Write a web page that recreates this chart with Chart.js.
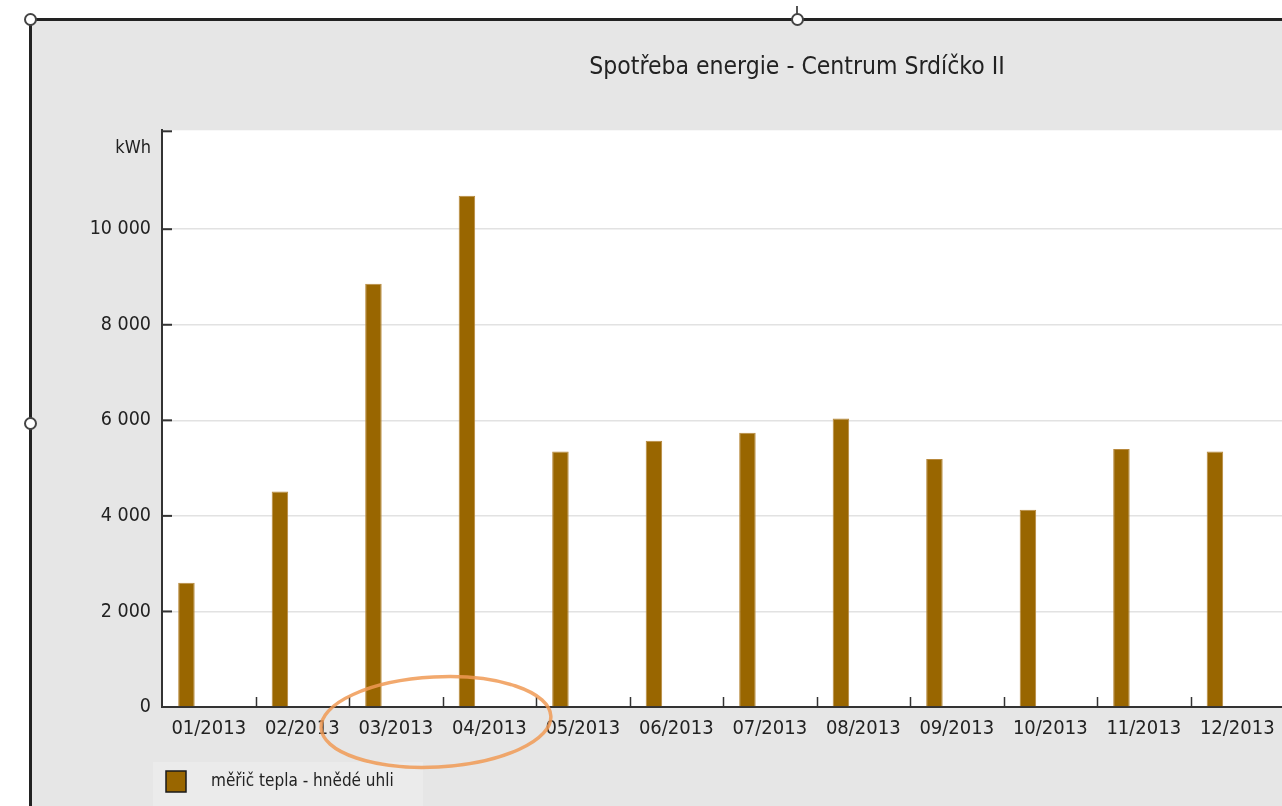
<!DOCTYPE html>
<html><head><meta charset="utf-8">
<script src="https://cdn.jsdelivr.net/npm/chart.js@4.4.1/dist/chart.umd.min.js"></script>
<style>
html,body{margin:0;padding:0;width:1282px;height:806px;overflow:hidden;background:#fff;}
#frame{position:absolute;left:29px;top:18px;width:1540px;height:800px;background:#e6e6e6;border-left:3px solid #222;border-top:3px solid #222;}
#c{position:absolute;left:32px;top:21px;width:1530px;height:785px;}
.h{position:absolute;width:9px;height:9px;border:2px solid #444;border-radius:50%;background:#fff;}
</style></head><body>
<div id="frame"></div>
<canvas id="c" width="1530" height="785"></canvas>
<div style="position:absolute;left:796px;top:6px;width:1.5px;height:12px;background:#555"></div>
<div class="h" style="left:23.5px;top:12.5px"></div>
<div class="h" style="left:790.5px;top:12.5px"></div>
<div class="h" style="left:23.5px;top:416.5px"></div>
<svg style="position:absolute;left:0;top:0;pointer-events:none" width="1282" height="806">
  <ellipse cx="436" cy="722" rx="115" ry="45" transform="rotate(-3 436 722)" fill="none" stroke="#f09a55" stroke-width="3.5" opacity="0.85"/>
</svg>
<script>
const chartTitle = 'Spotřeba energie - Centrum Srdíčko II';
const unitLabel = 'kWh';
const seriesName = 'měřič tepla - hnědé uhli';
const categories = ['01/2013','02/2013','03/2013','04/2013','05/2013','06/2013','07/2013','08/2013','09/2013','10/2013','11/2013','12/2013'];
const heatValues = [2600, 4510, 8860, 10700, 5350, 5570, 5740, 6040, 5190, 4130, 5400, 5350];
const emptySlot = [null,null,null,null,null,null,null,null,null,null,null,null];
const yTickValues = [0, 2000, 4000, 6000, 8000, 10000];
const yMax = 12070;

const FONT = "'DejaVu Sans Condensed','DejaVu Sans',sans-serif";
Chart.defaults.font.family = FONT;
Chart.defaults.color = '#222';

function fmt(v){ return String(v).replace(/\B(?=(\d{3})+(?!\d))/g, ' '); }

const deco = {
  id: 'deco',
  beforeDraw(chart){
    const {ctx, chartArea:a} = chart;
    ctx.save();
    ctx.fillStyle = '#ffffff';
    ctx.fillRect(a.left, a.top, a.right - a.left, a.bottom - a.top);
    ctx.fillStyle = '#ebebeb';
    ctx.fillRect(a.left - 9, chart.height - 44, 270, 44);
    ctx.restore();
  },
  afterDraw(chart){
    const {ctx, chartArea:a, scales:{x, y}} = chart;
    ctx.save();
    ctx.strokeStyle = '#333';
    ctx.lineWidth = 2;
    const ys = yTickValues.map(v => y.getPixelForValue(v)).concat([a.top + 1]);
    ys.forEach(py => { ctx.beginPath(); ctx.moveTo(a.left, py); ctx.lineTo(a.left + 10, py); ctx.stroke(); });
    const half = (x.getPixelForValue(1) - x.getPixelForValue(0)) / 2;
    for (let i = 0; i < categories.length; i++) {
      const px = Math.round(x.getPixelForValue(i) + half) + 0.5;
      ctx.lineWidth = 1.5;
      ctx.beginPath(); ctx.moveTo(px, a.bottom); ctx.lineTo(px, a.bottom - 10); ctx.stroke();
    }
    ctx.fillStyle = '#222';
    ctx.font = '18px ' + FONT;
    ctx.textAlign = 'right';
    ctx.textBaseline = 'middle';
    ctx.fillText(unitLabel, a.left - 11, a.top + 18);
    const ds = chart.data.datasets[0];
    const bx = a.left + 4, by = chart.height - 35;
    ctx.fillStyle = ds.backgroundColor;
    ctx.fillRect(bx, by, 20, 21);
    ctx.strokeStyle = '#1a1a1a';
    ctx.lineWidth = 1.5;
    ctx.strokeRect(bx, by, 20, 21);
    ctx.fillStyle = '#222';
    ctx.font = '17px ' + FONT;
    ctx.textAlign = 'left';
    ctx.fillText(ds.label, a.left + 49, by + 11);
    ctx.restore();
  }
};

new Chart(document.getElementById('c'), {
  type: 'bar',
  data: {
    labels: categories,
    datasets: [
      { label: seriesName, data: heatValues, backgroundColor: '#996600', borderColor: '#b8893c', borderWidth: 1,
        categoryPercentage: 0.9545, barPercentage: 0.37 },
      { label: '', data: emptySlot, backgroundColor: '#996600',
        categoryPercentage: 0.9545, barPercentage: 0.37 }
    ]
  },
  options: {
    responsive: false,
    animation: false,
    layout: { padding: 0 },
    plugins: {
      legend: { display: false },
      tooltip: { enabled: false },
      title: { display: true, text: chartTitle, color: '#222',
        font: { size: 24.5, weight: 'normal', family: FONT },
        padding: { top: 31.6, bottom: 48.3 } }
    },
    scales: {
      x: {
        afterFit(s){ s.height = 99; },
        border: { display: true, color: '#333', width: 2 },
        grid: { display: false, drawTicks: false },
        ticks: { padding: 10, color: '#222', font: { size: 20 }, maxRotation: 0, autoSkip: false }
      },
      y: {
        position: 'left', min: 0, max: yMax,
        afterFit(s){ s.width = 130; },
        afterBuildTicks(s){ s.ticks = yTickValues.map(v => ({ value: v })); },
        border: { display: true, color: '#333', width: 2 },
        grid: { color: '#e2e2e2', lineWidth: 1.5, drawTicks: false },
        ticks: { padding: 11, color: '#222', font: { size: 19.5 }, callback: v => fmt(v) }
      },
      yR: {
        position: 'right', display: true,
        afterFit(s){ s.width = 278; },
        grid: { display: false, drawTicks: false },
        border: { display: false },
        ticks: { display: false }
      }
    }
  },
  plugins: [deco]
});
</script>
</body></html>
